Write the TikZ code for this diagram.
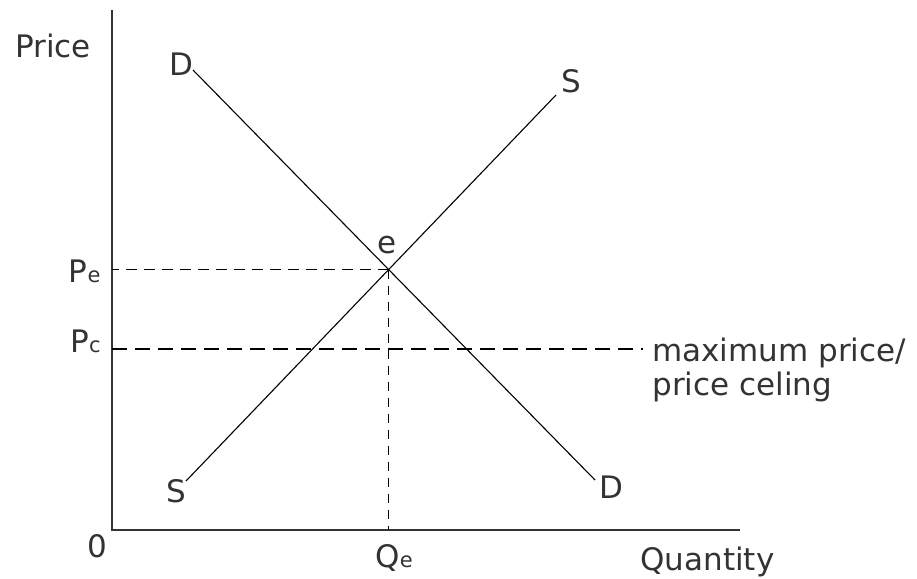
\documentclass[tikz,border=0pt]{standalone}
\usepackage{fontspec}
\setmainfont{DejaVu Sans}
\newcommand{\lowsub}[1]{{\fontsize{10.5}{12}\selectfont #1}}
\begin{document}
\begin{tikzpicture}[x=0.5pt, y=-0.5pt, every node/.style={font=\fontsize{15.5}{17}\selectfont, text=black!80, inner sep=0pt}]
  \useasboundingbox (0,0) rectangle (917,579);
  % axes
  \coordinate (O) at (112,530);
  \coordinate (ytop) at (112,10);
  \coordinate (xend) at (740,530);
  \draw[line width=1pt, black!80] (ytop) -- (O) -- (xend);
  % demand and supply
  \coordinate (Dtop) at (193,70);
  \coordinate (Dbot) at (595,480);
  \coordinate (Sbot) at (186,481);
  \coordinate (Stop) at (556,95);
  \draw[line width=0.55pt] (Dtop) -- (Dbot);
  \draw[line width=0.55pt] (Sbot) -- (Stop);
  \coordinate (eq) at (intersection of Dtop--Dbot and Sbot--Stop);
  % equilibrium guides
  \draw[line width=0.8pt, dash pattern=on 5.5pt off 3.5pt] (eq) -- (eq -| O);
  \draw[line width=0.8pt, dash pattern=on 4.5pt off 3.5pt] (eq) -- (eq |- O);
  % price ceiling
  \coordinate (pc) at (112,349);
  \coordinate (pcend) at (643,349);
  \draw[line width=0.8pt, dash pattern=on 7.5pt off 4pt] (pc) -- (pcend);
  % labels
  \node[anchor=base west] (price) at (15,57) {Price};
  \node[anchor=base west] (qty) at (640,570) {Quantity};
  \node[anchor=base] (zero) at (97,557) {0};
  \node[anchor=base] (dt) at (181,75) {D};
  \node[anchor=base] (db) at (611,498) {D};
  \node[anchor=base] (st) at (571,92) {S};
  \node[anchor=base] (sb) at (176,502) {S};
  \node[anchor=base] (elab) at (387,253) {e};
  \node[anchor=base east] (pe) at (101,282) {P\lowsub{e}};
  \node[anchor=base east] (pclab) at (101,352) {P\lowsub{c}};
  \node[anchor=base west] (qe) at (375,567) {Q\lowsub{e}};
  \node[anchor=base west, align=left] (ceil) at (652,395) {maximum price/\\price celing};
\end{tikzpicture}
\end{document}
